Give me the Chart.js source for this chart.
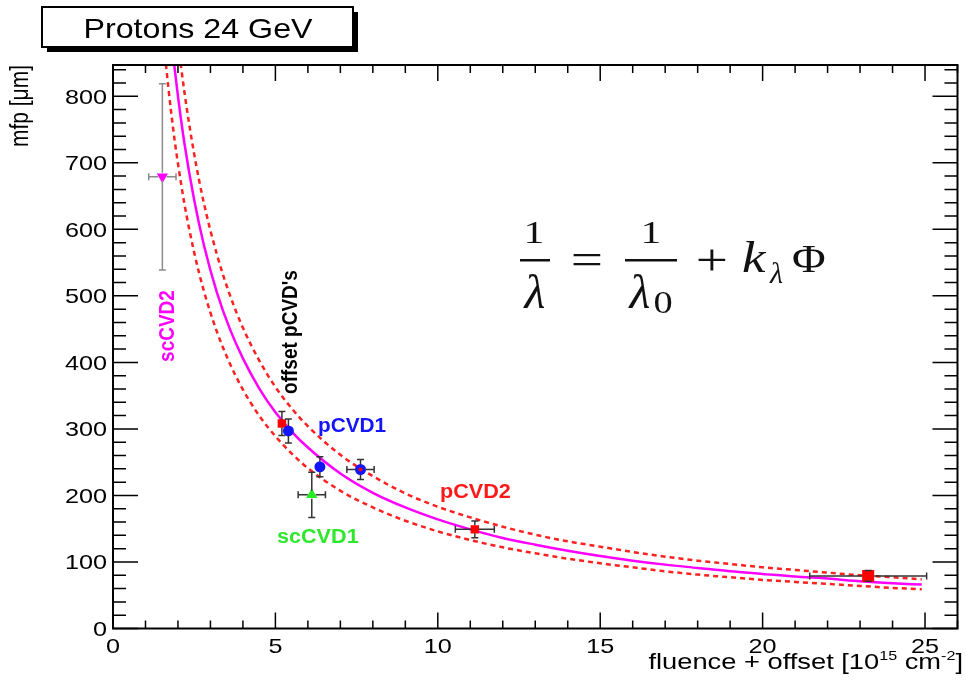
<!DOCTYPE html>
<html>
<head>
<meta charset="utf-8">
<script src="https://cdn.jsdelivr.net/npm/chart.js@4.4.1/dist/chart.umd.min.js"></script>
<style>
html, body { margin: 0; padding: 0; background: #fff; }
#wrap { width: 966px; height: 681px; }
</style>
</head>
<body>
<div id="wrap"><canvas id="myChart" width="966" height="681"></canvas></div>
<script>
// axis tick labels
const xTickLabels = [0, 5, 10, 15, 20, 25];
const yTickLabels = [0, 100, 200, 300, 400, 500, 600, 700, 800];

// measured points: fluence + offset [1e15 cm-2], mfp [um], errors
const scCVD2X = [1.52];
const scCVD2Y = [679];
const scCVD2Ex = [0.42];
const scCVD2Ey = [140];

const scCVD1X = [6.12];
const scCVD1Y = [201];
const scCVD1Ex = [0.42];
const scCVD1Ey = [34];

const pCVD1X = [5.40, 6.37, 7.62];
const pCVD1Y = [297, 243, 239];
const pCVD1Ex = [0, 0, 0.42];
const pCVD1Ey = [18, 15, 15];

const pCVD2X = [5.20, 11.14];
const pCVD2Y = [308, 149];
const pCVD2Ex = [0, 0.6];
const pCVD2Ey = [18, 12.5];

const pCVD2HighX = [23.25];
const pCVD2HighY = [79];
const pCVD2HighEx = [1.8];
const pCVD2HighEy = [8];

const pCVD2DotX = [7.62];
const pCVD2DotY = [239];

// fit curve and its error band
const fitX = [1.6, 1.7, 1.8, 1.9, 2.0, 2.2, 2.5, 2.8, 3.2, 3.6, 4.0, 4.5, 5.0, 5.5, 6.0,
    7, 8, 9, 10, 11, 12, 13, 14, 15, 16, 17, 18, 19, 20, 21, 22, 23, 24, 24.9];
const fitMid = [993, 937, 886, 841, 800, 729, 644, 576, 505, 450, 406, 361, 325, 296, 272,
    233, 204, 182, 164, 149, 136, 126, 117, 109, 102, 96, 91, 86, 82, 78, 75, 71, 68, 66];
const fitHigh = [1092, 1031, 977, 928, 883, 806, 713, 639, 562, 501, 452, 403, 363, 331, 304,
    261, 229, 203, 183, 167, 153, 141, 131, 123, 115, 108, 102, 97, 92, 88, 84, 80, 77, 74];
const fitLow = [862, 815, 772, 733, 699, 638, 565, 507, 446, 398, 359, 320, 289, 263, 241,
    207, 182, 162, 146, 133, 122, 113, 105, 98, 92, 86, 81, 77, 73, 70, 67, 64, 61, 59];

function pts(xs, ys) {
    return xs.map((x, i) => ({ x: x, y: ys[i] }));
}

// gap = half the marker size, the bar is not drawn through the marker
const errorSets = [
    { x: scCVD2X, y: scCVD2Y, ex: scCVD2Ex, ey: scCVD2Ey, color: '#8c8c8c', gap: 4 },
    { x: scCVD1X, y: scCVD1Y, ex: scCVD1Ex, ey: scCVD1Ey, color: '#333', gap: 4 },
    { x: pCVD1X, y: pCVD1Y, ex: pCVD1Ex, ey: pCVD1Ey, color: '#333', gap: 5 },
    { x: pCVD2X, y: pCVD2Y, ex: pCVD2Ex, ey: pCVD2Ey, color: '#333', gap: 4 },
    { x: pCVD2HighX, y: pCVD2HighY, ex: pCVD2HighEx, ey: pCVD2HighEy, color: '#333', gap: 6 }
];

function txt(c, s, x, y, font, color, align, sx, rot, sy) {
    c.save();
    c.translate(x, y);
    if (rot) c.rotate(rot);
    c.scale(sx || 1, sy || 1);
    c.font = font;
    c.fillStyle = color;
    c.textAlign = align || 'left';
    c.textBaseline = 'alphabetic';
    c.fillText(s, 0, 0);
    c.restore();
}

const sans = '"Liberation Sans"';
const serif = '"Liberation Serif"';

const rootStyle = {
    id: 'rootStyle',
    afterDatasetsDraw(chart) {
        const c = chart.ctx;
        const xs = chart.scales.x, ys = chart.scales.y;
        c.save();
        c.lineWidth = 1.5;
        for (const set of errorSets) {
            c.strokeStyle = set.color;
            const g = set.gap;
            for (let i = 0; i < set.x.length; i++) {
                const px = xs.getPixelForValue(set.x[i]);
                const py = ys.getPixelForValue(set.y[i]);
                c.beginPath();
                if (set.ey[i]) {
                    const t = ys.getPixelForValue(set.y[i] + set.ey[i]);
                    const b = ys.getPixelForValue(set.y[i] - set.ey[i]);
                    c.moveTo(px, t); c.lineTo(px, py - g);
                    c.moveTo(px, py + g); c.lineTo(px, b);
                    c.moveTo(px - 3.5, t); c.lineTo(px + 3.5, t);
                    c.moveTo(px - 3.5, b); c.lineTo(px + 3.5, b);
                }
                if (set.ex[i]) {
                    const l = xs.getPixelForValue(set.x[i] - set.ex[i]);
                    const r = xs.getPixelForValue(set.x[i] + set.ex[i]);
                    c.moveTo(l, py); c.lineTo(px - g, py);
                    c.moveTo(px + g, py); c.lineTo(r, py);
                    c.moveTo(l, py - 3.5); c.lineTo(l, py + 3.5);
                    c.moveTo(r, py - 3.5); c.lineTo(r, py + 3.5);
                }
                c.stroke();
            }
        }
        c.restore();
    },
    afterDraw(chart) {
        const c = chart.ctx;
        const a = chart.chartArea;
        const xs = chart.scales.x, ys = chart.scales.y;
        c.save();

        // frame + inward ticks on all four sides
        c.strokeStyle = '#000';
        c.lineWidth = 1.5;
        c.beginPath();
        for (let v = 0; v <= 26; v++) {
            const p = xs.getPixelForValue(v);
            const len = xTickLabels.includes(v) ? 16 : 8;
            c.moveTo(p, a.bottom); c.lineTo(p, a.bottom - len);
            c.moveTo(p, a.top); c.lineTo(p, a.top + len);
        }
        for (let v = 0; v <= 840; v += 20) {
            const p = ys.getPixelForValue(v);
            const len = yTickLabels.includes(v) ? 25 : 13;
            c.moveTo(a.left, p); c.lineTo(a.left + len, p);
            c.moveTo(a.right, p); c.lineTo(a.right - len, p);
        }
        c.stroke();
        c.lineWidth = 2;
        c.strokeRect(a.left, a.top, a.right - a.left, a.bottom - a.top);

        // tick labels
        for (const v of xTickLabels) {
            txt(c, String(v), xs.getPixelForValue(v), 653, '21px ' + sans, '#000', 'center', 1.2);
        }
        for (const v of yTickLabels) {
            txt(c, String(v), 107, ys.getPixelForValue(v) + 7.5, '21px ' + sans, '#000', 'right', 1.2);
        }

        // axis titles
        txt(c, 'mfp [\u03bcm]', 28, a.top, '21px ' + sans, '#000', 'right', 1, -Math.PI / 2, 1.2);
        const parts = [
            ['fluence + offset [10', 22, 0],
            ['15', 13, -9],
            [' cm', 22, 0],
            ['-2', 13, -9],
            [']', 22, 0]
        ];
        const sx = 1.24;
        let total = 0;
        for (const p of parts) { c.font = p[1] + 'px ' + sans; total += c.measureText(p[0]).width * sx; }
        let x0 = 963 - total;
        for (const p of parts) {
            c.font = p[1] + 'px ' + sans;
            const w = c.measureText(p[0]).width * sx;
            txt(c, p[0], x0, 669 + p[2], p[1] + 'px ' + sans, '#000', 'left', sx);
            x0 += w;
        }

        // title box with shadow
        c.fillStyle = '#000';
        c.fillRect(47, 12, 311, 40);
        c.fillStyle = '#fff';
        c.fillRect(42, 7, 311, 40);
        c.lineWidth = 2;
        c.strokeRect(42, 7, 311, 40);
        txt(c, 'Protons 24 GeV', 198, 38, '28px ' + sans, '#000', 'center', 1.15);

        // labels
        const bold = 'bold 19px ' + sans;
        txt(c, 'scCVD2', 174, 326, bold, '#ff00ff', 'center', 1, -Math.PI / 2, 1.15);
        txt(c, 'offset pCVD\'s', 297, 332, bold, '#000', 'center', 1, -Math.PI / 2, 1.15);
        txt(c, 'pCVD1', 318, 432, 'bold 20px ' + sans, '#1414ff', 'left', 1.04);
        txt(c, 'scCVD1', 277, 543, 'bold 20px ' + sans, '#2ee82e', 'left', 1.08);
        txt(c, 'pCVD2', 440, 498, 'bold 20px ' + sans, '#ff1a1a', 'left', 1.08);

        // formula 1/lambda = 1/lambda0 + k_lambda Phi
        const ink = '#111';
        c.fillStyle = ink;
        txt(c, '1', 534, 243, '32px ' + serif, ink, 'center', 1.3);
        c.fillRect(520, 259, 30, 2.5);
        txt(c, '\u03bb', 535, 308, 'italic 48px ' + serif, ink, 'center', 1.0);
        txt(c, '=', 587, 274, '44px ' + serif, ink, 'center', 1.3);
        txt(c, '1', 651, 243, '32px ' + serif, ink, 'center', 1.3);
        c.fillRect(625, 259, 52, 2.5);
        txt(c, '\u03bb', 640, 308, 'italic 48px ' + serif, ink, 'center', 1.0);
        txt(c, '0', 663, 313, '32px ' + serif, ink, 'center', 1.2);
        txt(c, '+', 712, 275, '44px ' + serif, ink, 'center', 1.3);
        txt(c, 'k', 742, 272, 'italic 44px ' + serif, ink, 'left', 1.2);
        txt(c, '\u03bb', 770, 283, 'italic 30px ' + serif, ink, 'left', 1.0);
        txt(c, '\u03a6', 792, 272, '40px ' + serif, ink, 'left', 1.15);

        c.restore();
    }
};

const myChart = new Chart(document.getElementById('myChart').getContext('2d'), {
    type: 'scatter',
    data: {
        datasets: [
            { data: pts(pCVD2DotX, pCVD2DotY), pointStyle: 'circle', pointRadius: 2,
              backgroundColor: '#ff0000', borderColor: '#ff0000', borderWidth: 0 },
            { data: pts(pCVD1X, pCVD1Y), pointStyle: 'circle', pointRadius: 5.5,
              backgroundColor: '#1414ff', borderColor: '#1414ff', borderWidth: 0 },
            { data: pts(pCVD2X, pCVD2Y), pointStyle: 'rect', pointRadius: 6,
              backgroundColor: '#ff0000', borderColor: '#ff0000', borderWidth: 0 },
            { data: pts(pCVD2HighX, pCVD2HighY), pointStyle: 'rect', pointRadius: 8.5,
              backgroundColor: '#ff0000', borderColor: '#ff0000', borderWidth: 0 },
            { data: pts(scCVD1X, scCVD1Y), pointStyle: 'triangle', pointRadius: 6.5,
              backgroundColor: '#22ee22', borderColor: '#22ee22', borderWidth: 0 },
            { data: pts(scCVD2X, scCVD2Y), pointStyle: 'triangle', pointRadius: 6.5, pointRotation: 180,
              backgroundColor: '#ff00ff', borderColor: '#ff00ff', borderWidth: 0 },
            { data: pts(fitX, fitMid), showLine: true, pointRadius: 0, borderColor: '#ff00ff',
              borderWidth: 2.5, cubicInterpolationMode: 'monotone' },
            { data: pts(fitX, fitHigh), showLine: true, pointRadius: 0, borderColor: '#ff2020',
              borderWidth: 2.5, borderDash: [5, 4], cubicInterpolationMode: 'monotone' },
            { data: pts(fitX, fitLow), showLine: true, pointRadius: 0, borderColor: '#ff2020',
              borderWidth: 2.5, borderDash: [5, 4], cubicInterpolationMode: 'monotone' }
        ]
    },
    options: {
        responsive: false,
        animation: false,
        layout: { padding: { top: 65, right: 2, left: 0, bottom: 0 } },
        plugins: { legend: { display: false }, tooltip: { enabled: false } },
        scales: {
            x: {
                type: 'linear', min: 0, max: 26,
                afterBuildTicks: (axis) => { axis.ticks = xTickLabels.map(v => ({ value: v })); },
                afterFit: (scale) => { scale.height = 52.5; },
                grid: { display: false, drawTicks: false }, border: { display: false },
                ticks: { display: false }
            },
            y: {
                type: 'linear', min: 0, max: 847,
                afterBuildTicks: (axis) => { axis.ticks = yTickLabels.map(v => ({ value: v })); },
                afterFit: (scale) => { scale.width = 113; },
                grid: { display: false, drawTicks: false }, border: { display: false },
                ticks: { display: false }
            }
        }
    },
    plugins: [rootStyle]
});
</script>
</body>
</html>
